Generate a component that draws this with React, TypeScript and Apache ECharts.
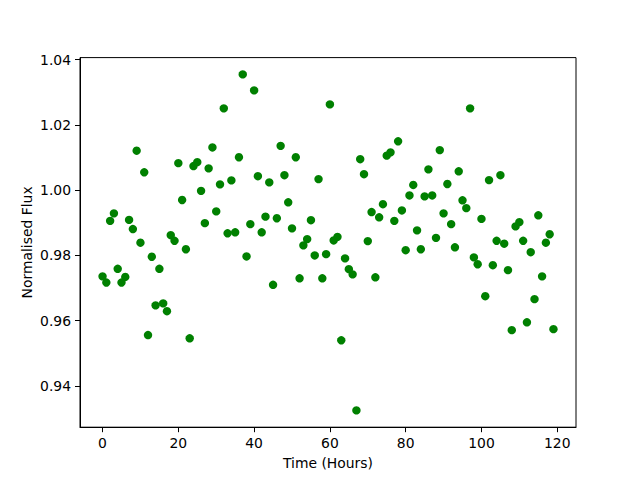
import React, { useEffect, useRef } from "react";
import * as echarts from "echarts";

const times: number[] = [
  0, 1, 2, 3, 4, 5, 6, 7, 8, 9, 10, 11, 12, 13, 14, 15, 16, 17, 18, 19,
  20, 21, 22, 23, 24, 25, 26, 27, 28, 29, 30, 31, 32, 33, 34, 35, 36, 37, 38, 39,
  40, 41, 42, 43, 44, 45, 46, 47, 48, 49, 50, 51, 52, 53, 54, 55, 56, 57, 58, 59,
  60, 61, 62, 63, 64, 65, 66, 67, 68, 69, 70, 71, 72, 73, 74, 75, 76, 77, 78, 79,
  80, 81, 82, 83, 84, 85, 86, 87, 88, 89, 90, 91, 92, 93, 94, 95, 96, 97, 98, 99,
  100, 101, 102, 103, 104, 105, 106, 107, 108, 109, 110, 111, 112, 113, 114, 115, 116, 117, 118, 119,
];

const flux: number[] = [
  0.9736, 0.9717, 0.9906, 0.9929, 0.9759, 0.9717, 0.9734, 0.9909, 0.9881, 1.0121,
  0.9839, 1.0055, 0.9556, 0.9796, 0.9647, 0.9759, 0.9653, 0.9629, 0.9862, 0.9845,
  1.0083, 0.997, 0.9819, 0.9546, 1.0074, 1.0086, 0.9998, 0.9899, 1.0067, 1.0131,
  0.9935, 1.0018, 1.0251, 0.9868, 1.003, 0.9871, 1.0101, 1.0355, 0.9797, 0.9896,
  1.0306, 1.0043, 0.9871, 0.9919, 1.0024, 0.971, 0.9914, 1.0136, 1.0046, 0.9963,
  0.9883, 1.0101, 0.973, 0.9831, 0.985, 0.9908, 0.98, 1.0034, 0.973, 0.9804,
  1.0263, 0.9846, 0.9857, 0.954, 0.9791, 0.9758, 0.9742, 0.9325, 1.0095, 1.0049,
  0.9844, 0.9933, 0.9733, 0.9917, 0.9957, 1.0106, 1.0116, 0.9906, 1.015, 0.9938,
  0.9816, 0.9984, 1.0016, 0.9877, 0.9819, 0.9981, 1.0064, 0.9984, 0.9854, 1.0123,
  0.9929, 1.0019, 0.9896, 0.9825, 1.0058, 0.9969, 0.9945, 1.0251, 0.9794, 0.9773,
  0.9912, 0.9675, 1.0031, 0.977, 0.9845, 1.0046, 0.9836, 0.9755, 0.9571, 0.9889,
  0.9902, 0.9845, 0.9595, 0.981, 0.9666, 0.9923, 0.9736, 0.9839, 0.9865, 0.9574,
];

const xTicks: number[] = [0, 20, 40, 60, 80, 100, 120];
const yTicks: number[] = [0.94, 0.96, 0.98, 1.0, 1.02, 1.04];

const FONT = "DejaVu Sans";

export default function App() {
  const ref = useRef<HTMLDivElement>(null);
  useEffect(() => {
    if (!ref.current) return;
    const chart = echarts.init(ref.current, null, { renderer: "svg" });
    const data = times.map((t, i) => [t, flux[i]]);
    chart.setOption({
      animation: false,
      backgroundColor: "#fff",
      grid: {
        left: 80,
        top: 57.6,
        width: 496,
        height: 369.6,
        show: true,
        borderColor: "#000",
        borderWidth: 1,
        backgroundColor: "transparent",
      },
      xAxis: {
        type: "value",
        min: -5.95,
        max: 124.95,
        splitLine: { show: false },
        axisLine: { show: true, onZero: false, lineStyle: { color: "#000", width: 1 } },
        axisTick: { show: true, length: 5, customValues: xTicks, lineStyle: { color: "#000", width: 1 } },
        axisLabel: {
          customValues: xTicks,
          margin: 9,
          color: "#000",
          fontSize: 13.9,
          fontFamily: FONT,
          formatter: (v: number) => String(Math.round(v)),
        },
        name: "Time (Hours)",
        nameLocation: "middle",
        nameGap: 29,
        nameTextStyle: { color: "#000", fontSize: 13.9, fontFamily: FONT },
      },
      yAxis: {
        type: "value",
        min: 0.92735,
        max: 1.04065,
        splitLine: { show: false },
        axisLine: { show: true, onZero: false, lineStyle: { color: "#000", width: 1 } },
        axisTick: { show: true, length: 5, customValues: yTicks, lineStyle: { color: "#000", width: 1 } },
        axisLabel: {
          customValues: yTicks,
          margin: 9,
          color: "#000",
          fontSize: 13.9,
          fontFamily: FONT,
          formatter: (v: number) => v.toFixed(2),
        },
        name: "Normalised Flux",
        nameLocation: "middle",
        nameGap: 46,
        nameMoveOverlap: false,
        nameTextStyle: { color: "#000", fontSize: 13.9, fontFamily: FONT },
      },
      series: [
        {
          type: "scatter",
          data,
          symbol: "circle",
          symbolSize: 8.4,
          itemStyle: { color: "#008000", opacity: 1 },
          emphasis: { disabled: true },
        },
      ],
    });
    return () => chart.dispose();
  }, []);
  return (
    <div
      ref={ref}
      style={{ position: "fixed", left: 0, top: 0, width: 640, height: 480, background: "#fff" }}
    />
  );
}
